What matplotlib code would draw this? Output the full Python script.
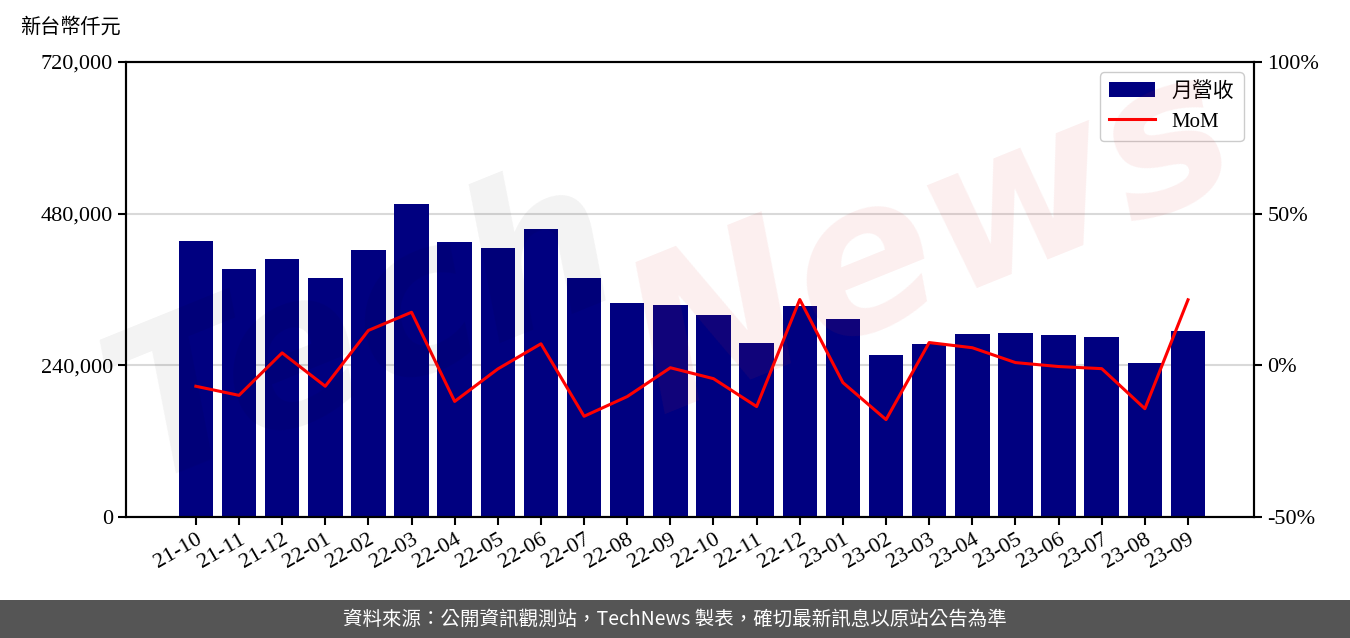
import matplotlib.pyplot as plt
from matplotlib.patches import Rectangle
from matplotlib.ticker import FuncFormatter

plt.rcParams['font.family'] = ['Liberation Serif', 'Noto Sans CJK TC', 'DejaVu Sans']

# datos
meses = ["21-10", "21-11", "21-12", "22-01", "22-02", "22-03", "22-04", "22-05",
         "22-06", "22-07", "22-08", "22-09", "22-10", "22-11", "22-12", "23-01",
         "23-02", "23-03", "23-04", "23-05", "23-06", "23-07", "23-08", "23-09"]
ingresos = [436700, 392400, 408300, 378200, 422500, 495300, 435200, 425700,
            455700, 378200, 338600, 335500, 319600, 275300, 333900, 313300,
            256300, 273800, 289600, 291200, 288000, 284800, 243700, 294300]
mom = [-6.9, -9.9, 4.1, -6.9, 11.5, 17.5, -11.9, -1.2,
       7.1, -16.8, -10.3, -0.8, -4.4, -13.6, 21.7, -5.7,
       -17.9, 7.5, 5.8, 0.9, -0.4, -1.1, -14.3, 21.6]

fig = plt.figure(figsize=(13.5, 6.38), dpi=100)
ax = fig.add_axes([0.0933, 0.1897, 0.8356, 0.7131])
ax2 = ax.twinx()

x = list(range(len(meses)))
ax.bar(x, ingresos, width=0.8, color='#000080', label='月營收', zorder=2)
ax2.plot(x, mom, color='#ff0000', linewidth=2.2, label='MoM', zorder=3)

ax.set_xlim(-1.62, 24.53)
ax.set_ylim(0, 720000)
ax.set_yticks([0, 240000, 480000, 720000])
ax.yaxis.set_major_formatter(FuncFormatter(lambda v, p: f"{int(v):,}"))
ax.yaxis.grid(True, color='#d9d9d9', linewidth=1.5, zorder=0)
ax.set_axisbelow(True)
ax.set_xticks(x)
ax.set_xticklabels(meses, rotation=30, ha='right', rotation_mode='anchor')

ax2.set_ylim(-50, 100)
ax2.set_yticks([-50, 0, 50, 100])
ax2.yaxis.set_major_formatter(FuncFormatter(lambda v, p: f"{int(v)}%"))

for a in (ax, ax2):
    a.tick_params(labelsize=16, width=1.5, length=6)
    for s in a.spines.values():
        s.set_linewidth(1.5)

# leyenda combinada
h1, l1 = ax.get_legend_handles_labels()
h2, l2 = ax2.get_legend_handles_labels()
leg = ax2.legend(h1 + h2, l1 + l2, loc='upper right', fontsize=15,
                 handlelength=2.2, borderpad=0.45, framealpha=1)
leg.get_frame().set_edgecolor('#cccccc')

# marca de agua
fig.text(0.27, 0.48, "Tech", fontsize=150, fontweight='bold', style='italic',
         family='DejaVu Sans', color='#000000', alpha=0.05, rotation=22,
         ha='center', va='center')
fig.text(0.69, 0.62, "News", fontsize=150, fontweight='bold', style='italic',
         family='DejaVu Sans', color='#dd3333', alpha=0.08, rotation=22,
         ha='center', va='center')

fig.text(20 / 1350, 1 - 27 / 638, "新台幣仟元", fontsize=14.5,
         family=['Noto Sans CJK TC'], ha='left', va='center')

# pie de página
fig.patches.append(Rectangle((0, 0), 1, 38 / 638, transform=fig.transFigure,
                             facecolor='#555555', edgecolor='none'))
fig.text(0.5, 19 / 638, "資料來源：公開資訊觀測站，TechNews 製表，確切最新訊息以原站公告為準",
         color='white', fontsize=14, family=['Noto Sans CJK TC', 'DejaVu Sans'],
         ha='center', va='center')

plt.savefig("out.png", dpi=100)
